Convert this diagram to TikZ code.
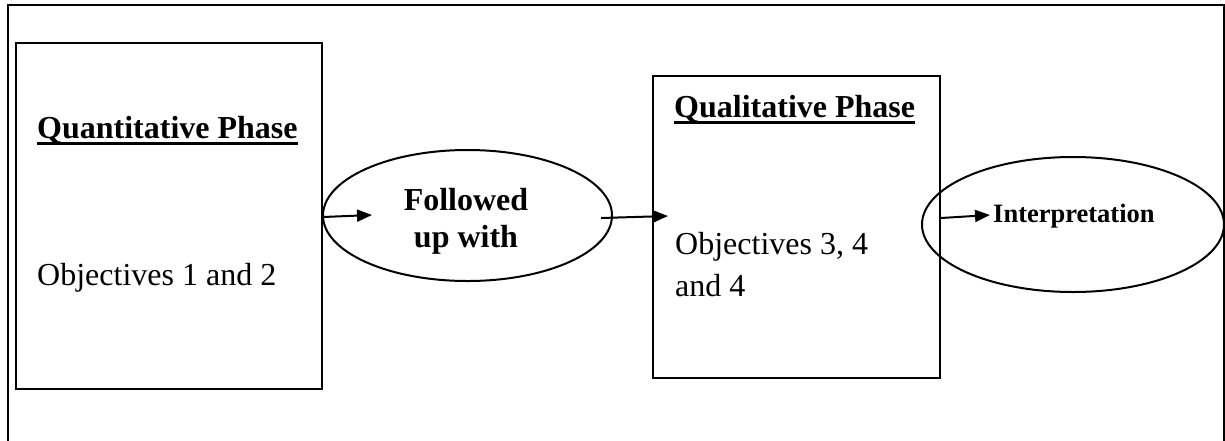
\documentclass[tikz,border=0pt]{standalone}
\usepackage{fontspec}
\setmainfont{Liberation Serif}
\usetikzlibrary{shapes.geometric,arrows.meta}
\begin{document}
\begin{tikzpicture}[x=1pt,y=-1pt,
  phase/.style={draw, line width=2pt, rectangle, inner sep=0pt},
  oval/.style={draw, line width=2pt, ellipse, inner sep=0pt},
  lbl/.style={anchor=base west, inner sep=0pt, font=\fontsize{32}{37}\selectfont},
  head/.style={lbl, font=\fontsize{32}{37}\selectfont\bfseries},
  uline/.style={line width=3pt},
  conn/.style={line width=2pt, -{Triangle[length=15pt,width=12pt]}}
]
\useasboundingbox (0,0) rectangle (1225,440);
\clip (0,0) rectangle (1225,440);
% outer frame
\draw[line width=2pt] (8,470) -- (8,5) -- (1224,5) -- (1224,470);
% boxes
\node[phase, minimum width=306pt, minimum height=346pt] (q) at (169,216) {};
\node[phase, minimum width=287pt, minimum height=302pt] (r) at (796.5,227) {};
% ellipses
\node[oval, minimum width=289pt, minimum height=131pt] (f) at (467.5,215.5) {};
\node[oval, minimum width=302pt, minimum height=135pt] (i) at (1073,224.5) {};
% texts
\node[head] (qt) at (37,138) {Quantitative Phase};
\draw[uline] ([yshift=-5pt]qt.base west) -- ([yshift=-5pt]qt.base east);
\node[lbl] (qo) at (37,285) {Objectives 1 and 2};
\node[head] (rt) at (674,117) {Qualitative Phase};
\draw[uline] ([yshift=-5pt]rt.base west) -- ([yshift=-5pt]rt.base east);
\node[lbl] (ro1) at (675,254) {Objectives 3, 4};
\node[lbl] (ro2) at (675,296) {and 4};
\node[head, anchor=base] (ft1) at (466,210) {Followed};
\node[head, anchor=base] (ft2) at (466,247) {up with};
\node[lbl, font=\fontsize{26.5}{30}\selectfont\bfseries] (it) at (993,222) {Interpretation};
% connectors
\coordinate (a1) at (372,215);
\coordinate (a2) at (668,216);
\coordinate (a3) at (990,215);
\draw[conn] ([yshift=-1pt]q.east) -- (a1);
\draw[conn] ([xshift=-12pt,yshift=-2.5pt]f.east) -- (a2);
\draw[conn] ([yshift=9pt]r.east) -- (a3);
\end{tikzpicture}
\end{document}
